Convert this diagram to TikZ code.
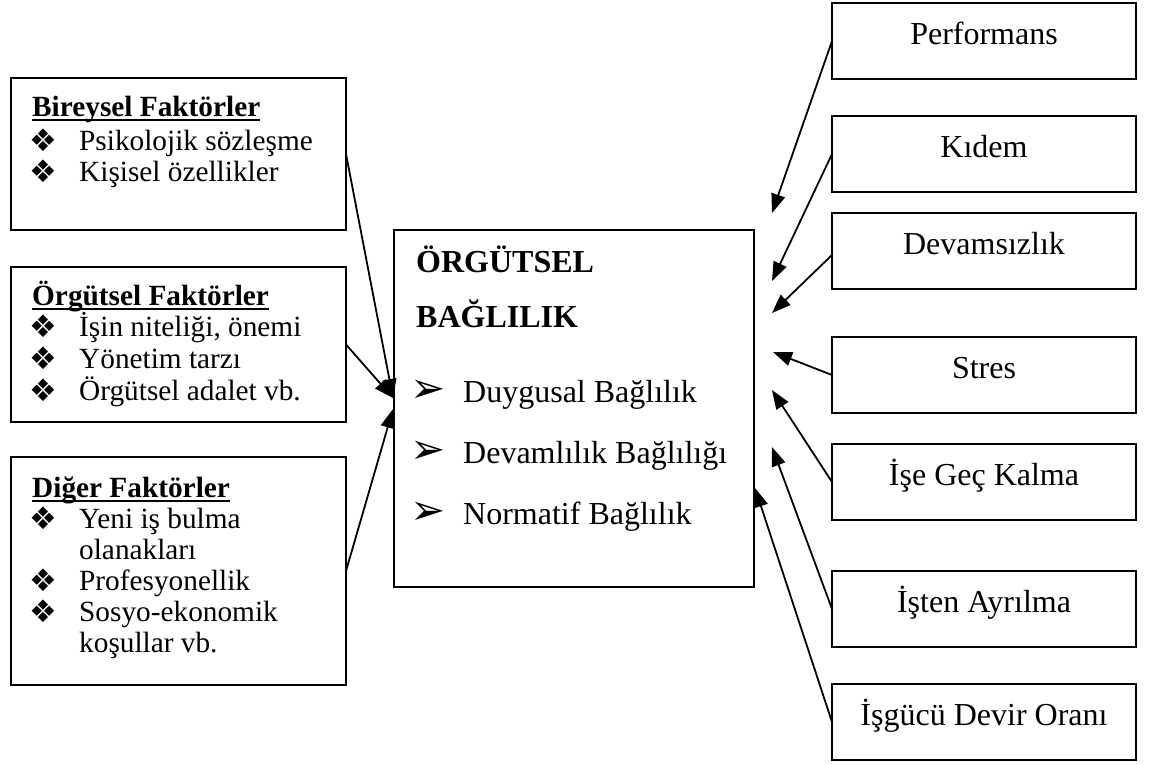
\documentclass[tikz,border=0pt]{standalone}
\usepackage{fontspec}
\setmainfont{Liberation Serif}
\newfontfamily\dejavu{DejaVu Sans}
\usetikzlibrary{arrows.meta}
\newsavebox{\myulbox}
\newcommand{\myul}[1]{\sbox{\myulbox}{#1}\rlap{\rule[-5pt]{\wd\myulbox}{2pt}}\usebox{\myulbox}}
\begin{document}
\begin{tikzpicture}[x=1pt,y=-1pt,
  box/.style={draw, line width=1.8pt, inner sep=0pt, outer sep=0pt, anchor=north west},
  rbox/.style={box, minimum width=304pt, minimum height=76pt},
  lbox/.style={box, minimum width=335pt},
  lt/.style={anchor=base west, inner sep=0pt, font=\fontsize{29.3}{32}\selectfont},
  ct/.style={anchor=base west, inner sep=0pt, font=\fontsize{32}{36}\selectfont},
  rt/.style={anchor=base, inner sep=0pt, font=\fontsize{32}{36}\selectfont},
  bul/.style={inner sep=0pt, font=\dejavu\fontsize{31}{32}\selectfont},
  cbul/.style={inner sep=0pt, font=\dejavu\fontsize{42}{44}\selectfont},
  arr/.style={line width=1.8pt, -{Triangle[length=19pt,width=14pt]}}]
\useasboundingbox (0,0) rectangle (1151,764);

% left boxes
\node[lbox, minimum height=152pt] (b1) at (11,78) {};
\node[lbox, minimum height=155pt] (b2) at (11,267) {};
\node[lbox, minimum height=228pt] (b3) at (11,457) {};

\node[lt] (b1t) at (32,116) {\myul{\textbf{Bireysel Faktörler}}};
\node[bul] (b1u1) at (43,140) {❖};
\node[lt] (b1l1) at (79,150) {Psikolojik sözleşme};
\node[bul] (b1u2) at (43,171) {❖};
\node[lt] (b1l2) at (79,181) {Kişisel özellikler};

\node[lt] (b2t) at (32,305) {\myul{\textbf{Örgütsel Faktörler}}};
\node[bul] (b2u1) at (43,326) {❖};
\node[lt] (b2l1) at (79,336) {İşin niteliği, önemi};
\node[bul] (b2u2) at (43,358) {❖};
\node[lt] (b2l2) at (79,368) {Yönetim tarzı};
\node[bul] (b2u3) at (43,390) {❖};
\node[lt] (b2l3) at (79,400) {Örgütsel adalet vb.};

\node[lt] (b3t) at (32,497) {\myul{\textbf{Diğer Faktörler}}};
\node[bul] (b3u1) at (43,518) {❖};
\node[lt] (b3l1) at (79,528) {Yeni iş bulma};
\node[lt] (b3l2) at (79,559) {olanakları};
\node[bul] (b3u3) at (43,580) {❖};
\node[lt] (b3l3) at (79,590) {Profesyonellik};
\node[bul] (b3u4) at (43,611) {❖};
\node[lt] (b3l4) at (79,621) {Sosyo-ekonomik};
\node[lt] (b3l5) at (79,652) {koşullar vb.};

% center box
\node[box, minimum width=360pt, minimum height=357pt] (c) at (394,230) {};
\node[ct] (ct1) at (416,272) {\textbf{ÖRGÜTSEL}};
\node[ct] (ct2) at (416,327) {\textbf{BAĞLILIK}};
\node[cbul] (cu1) at (428,391.5) {➢};
\node[ct] (cl1) at (463,402) {Duygusal Bağlılık};
\node[cbul] (cu2) at (428,452.5) {➢};
\node[ct] (cl2) at (463,463) {Devamlılık Bağlılığı};
\node[cbul] (cu3) at (428,513.5) {➢};
\node[ct] (cl3) at (463,524) {Normatif Bağlılık};

% right boxes
\node[rbox] (r1) at (832,3) {};
\node[rt] (r1t) at (984,44) {Performans};
\node[rbox] (r2) at (832,116) {};
\node[rt] (r2t) at (984,157) {Kıdem};
\node[rbox] (r3) at (832,213) {};
\node[rt] (r3t) at (984,254) {Devamsızlık};
\node[rbox] (r4) at (832,337) {};
\node[rt] (r4t) at (984,378) {Stres};
\node[rbox] (r5) at (832,444) {};
\node[rt] (r5t) at (984,485) {İşe Geç Kalma};
\node[rbox] (r6) at (832,571) {};
\node[rt] (r6t) at (984,612) {İşten Ayrılma};
\node[rbox] (r7) at (832,684) {};
\node[rt] (r7t) at (984,725) {İşgücü Devir Oranı};

% arrow end points
\coordinate (la) at (393,398);
\coordinate (lb) at (393,409);
\coordinate (e1) at (772,213);
\coordinate (e2) at (772,281);
\coordinate (e3) at (772,313);
\coordinate (e4) at (773,352);
\coordinate (e5) at (772,390);
\coordinate (e6) at (772,447);
\coordinate (e7) at (755,488);

\draw[arr] (b1.east) -- (la);
\draw[arr] (b2.east) -- (la);
\draw[arr] (b3.east) -- (lb);

\draw[arr] (r1.west) -- (e1);
\draw[arr] (r2.west) -- (e2);
\draw[arr] ([yshift=-4pt]r3.west) -- (e3);
\draw[arr] (r4.west) -- (e4);
\draw[arr] (r5.west) -- (e5);
\draw[arr] (r6.west) -- (e6);
\draw[arr] (r7.west) -- (e7);
\end{tikzpicture}
\end{document}
